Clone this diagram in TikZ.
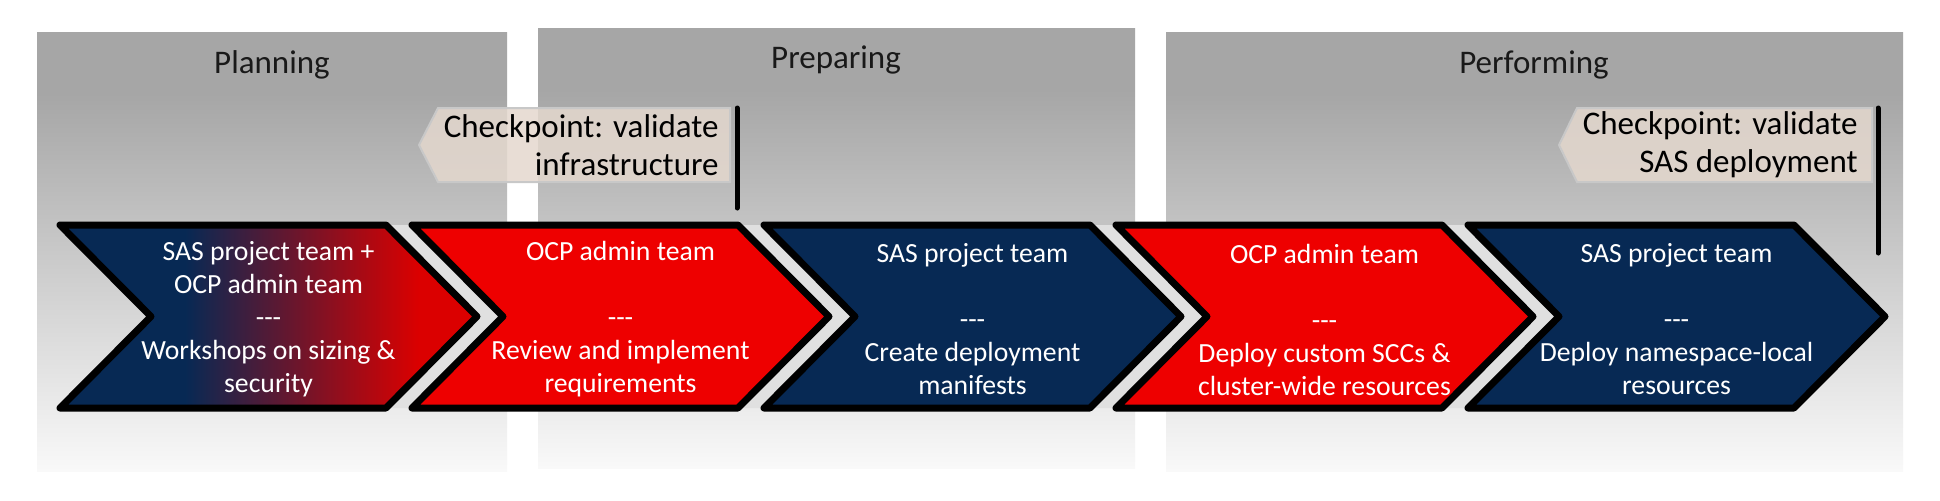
\documentclass[tikz,border=0pt]{standalone}
\usepackage{fontspec}
\setmainfont{Carlito}

\definecolor{sasnavy}{RGB}{7,41,84}
\definecolor{sasred}{RGB}{238,0,0}
\definecolor{ptop}{RGB}{166,166,166}
\definecolor{pbot}{RGB}{249,249,249}
\definecolor{ckfill}{RGB}{228,216,206}
\definecolor{ckedge}{RGB}{200,200,200}
\pgfdeclareverticalshading{panelfade}{100bp}{color(0bp)=(pbot); color(25bp)=(pbot); color(68bp)=(ptop); color(100bp)=(ptop)}
\pgfdeclarehorizontalshading{navyred}{100bp}{color(0bp)=(sasnavy); color(40bp)=(sasnavy); color(68bp)=(sasred!92!black); color(100bp)=(sasred!92!black)}

\begin{document}
\begin{tikzpicture}[x=0.5pt,y=-0.5pt,
    panel/.style={shading=panelfade},
    ptitle/.style={
        anchor=base,
        font=\fontsize{16.5}{19}\selectfont,
        text=black!90,
    },
    chev/.style={
        draw=black,
        line width=3.5pt,
        line join=round,
    },
    chevb/.style={chev,fill=sasnavy},
    chevr/.style={chev,fill=sasred},
    chevt/.style={
        text=white,
        align=center,
        inner sep=0pt,
        font=\fontsize{13.85}{16.5}\selectfont,
    },
    gapfill/.style={fill=black!12},
    ckbox/.style={
        fill=ckfill,
        fill opacity=.85,
        draw=ckedge,
        line width=1pt,
    },
    ckt/.style={
        anchor=east,
        align=right,
        inner sep=0pt,
        font=\fontsize{16.5}{19}\selectfont,
    },
    ckbar/.style={line width=2.5pt,line cap=round},
]
    \useasboundingbox[fill=white] (0,0) rectangle (1940,500);
    % ~~~ phases ~~~~~~~~~~~~
    \shade[panel] (37,32) rectangle (507,471);
    \shade[panel] (538,28) rectangle (1135,468);
    \shade[panel] (1166,32) rectangle (1903,471);
    \node[ptitle] (t1) at (272,73) {Planning};
    \node[ptitle] (t2) at (836,68) {Preparing};
    \node[ptitle] (t3) at (1534,73) {Performing};
    % ~~~ checkpoints ~~~~~~~~~~~~
    \filldraw[ckbox] (438,108) -- (730,108) -- (730,182) -- (438,182) -- (419,145) -- cycle;
    \node[ckt] (k1) at (719,145) {Checkpoint: validate\\infrastructure};
    \draw[ckbar] (737,108) -- (737,208);
    \filldraw[ckbox] (1577,108) -- (1872,108) -- (1872,182) -- (1577,182) -- (1559,145) -- cycle;
    \node[ckt] (k2) at (1858,145) {Checkpoint: validate\\SAS deployment};
    \draw[ckbar] (1878,108) -- (1878,253);
    % ~~~ light gaps between chevrons ~~~~~~~~~~~~
    \fill[gapfill] (386,225) -- ++(91,91.5) -- ++(-91,91.5) -- ++(26,0) -- ++(91,-91.5) -- ++(-91,-91.5) -- cycle;
    \fill[gapfill] (738,225) -- ++(91,91.5) -- ++(-91,91.5) -- ++(26,0) -- ++(91,-91.5) -- ++(-91,-91.5) -- cycle;
    \fill[gapfill] (1090,225) -- ++(91,91.5) -- ++(-91,91.5) -- ++(26,0) -- ++(91,-91.5) -- ++(-91,-91.5) -- cycle;
    \fill[gapfill] (1442,225) -- ++(91,91.5) -- ++(-91,91.5) -- ++(26,0) -- ++(91,-91.5) -- ++(-91,-91.5) -- cycle;
    % ~~~ chevrons ~~~~~~~~~~~~
    \shadedraw[chev,shading=navyred] (60,225) -- ++(326,0) -- ++(91,91.5) -- ++(-91,91.5) -- ++(-326,0) -- ++(91,-91.5) -- cycle;
    \draw[chevr] (412,225) -- ++(326,0) -- ++(91,91.5) -- ++(-91,91.5) -- ++(-326,0) -- ++(91,-91.5) -- cycle;
    \draw[chevb] (764,225) -- ++(326,0) -- ++(91,91.5) -- ++(-91,91.5) -- ++(-326,0) -- ++(91,-91.5) -- cycle;
    \draw[chevr] (1116,225) -- ++(326,0) -- ++(91,91.5) -- ++(-91,91.5) -- ++(-326,0) -- ++(91,-91.5) -- cycle;
    \draw[chevb] (1468,225) -- ++(326,0) -- ++(91,91.5) -- ++(-91,91.5) -- ++(-326,0) -- ++(91,-91.5) -- cycle;
    \node[chevt] (c1) at (268.5,319.5) {SAS project team +\\OCP admin team\\-{}-{}-\\Workshops on sizing \&\\security};
    \node[chevt] (c2) at (620.5,319.5) {OCP admin team\\~\\-{}-{}-\\Review and implement\\requirements};
    \node[chevt] (c3) at (972.5,319.5) {SAS project team\\~\\-{}-{}-\\Create deployment\\manifests};
    \node[chevt] (c4) at (1324.5,319.5) {OCP admin team\\~\\-{}-{}-\\Deploy custom SCCs \&\\cluster-wide resources};
    \node[chevt] (c5) at (1676.5,319.5) {SAS project team\\~\\-{}-{}-\\Deploy namespace-local\\resources};
\end{tikzpicture}
\end{document}
